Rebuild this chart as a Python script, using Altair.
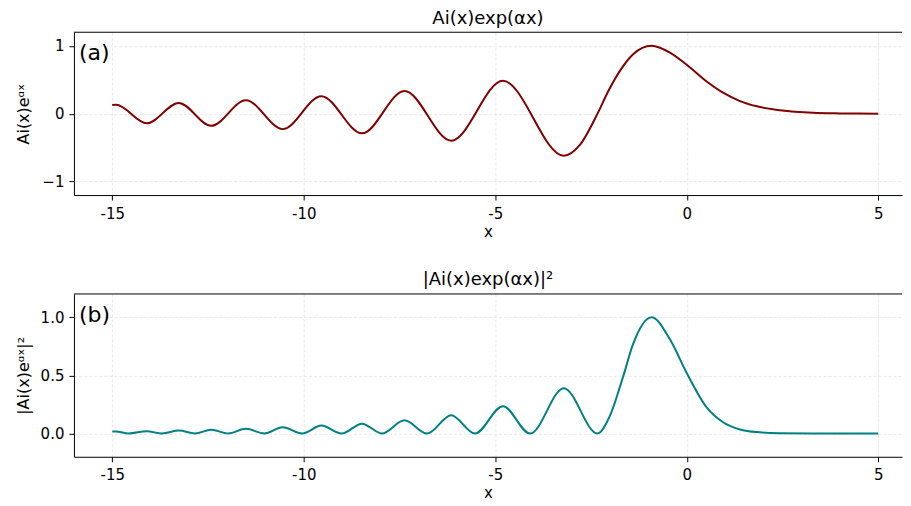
import altair as alt
import pandas as pd

# ---- data ----
# (a) Ai(x)exp(alpha x): extrema of the oscillations, then the main lobe and decaying tail
a_x = [-15.0, -14.9, -14.10, -13.26, -12.42, -11.51, -10.55, -9.54, -8.48, -7.37,
       -6.15, -4.80, -3.21, -2.79, -2.33, -2.05, -1.66, -1.40, -0.92, -0.44,
       0.0, 0.52, 0.96, 1.39, 1.83, 2.43, 3.3, 4.0, 5.0]
a_y = [0.127, 0.130, -0.143, 0.158, -0.180, 0.198, -0.228, 0.258, -0.290, 0.334,
       -0.398, 0.485, -0.620, -0.46, 0.0, 0.33, 0.70, 0.875, 1.0, 0.90,
       0.72, 0.475, 0.305, 0.185, 0.108, 0.05, 0.012, 0.004, 0.0]

# (b) |Ai(x)exp(alpha x)|^2: peaks, zeros and tail
b_x = [-15.0, -14.9, -14.57, -14.10, -13.70, -13.26, -12.84, -12.42, -11.97, -11.51,
       -11.03, -10.55, -10.04, -9.54, -9.01, -8.48, -7.96, -7.37, -6.78, -6.15,
       -5.53, -4.80, -4.09, -3.21, -2.33, -2.01, -1.66, -1.40, -0.92, -0.44,
       0.0, 0.52, 0.96, 1.39, 1.83, 2.43, 3.3, 5.0]
b_y = [0.0165, 0.017, 0.0, 0.020, 0.0, 0.025, 0.0, 0.032, 0.0, 0.040,
       0.0, 0.053, 0.0, 0.068, 0.0, 0.085, 0.0, 0.113, 0.0, 0.158,
       0.0, 0.235, 0.0, 0.390, 0.0, 0.15, 0.49, 0.77, 1.0, 0.81,
       0.52, 0.225, 0.095, 0.035, 0.012, 0.003, 0.0005, 0.0]

x_ticks = [-15, -10, -5, 0, 5]
a_ticks = [-1, 0, 1]
b_ticks = [0.0, 0.5, 1.0]

FONT = "DejaVu Sans"
W, H = 829, 163
X_DOMAIN = [-16, 5.62]


def panel(xs, ys, color, ydom, yticks, yfmt, ytitle, title, tag):
    df = pd.DataFrame({"x": xs, "y": ys})
    x_enc = alt.X(
        "x:Q",
        scale=alt.Scale(domain=X_DOMAIN, nice=False, zero=False),
        axis=alt.Axis(
            values=x_ticks, labelExpr="'' + datum.value", title="x",
            grid=True, gridDash=[3, 2], gridColor="#e2e2e2", gridWidth=0.8,
            domainColor="#000000", tickColor="#000000", tickSize=5,
            labelPadding=6, labelFontSize=15, labelColor="#000000", labelFont=FONT,
            titleFont=FONT, titleFontSize=15, titleFontWeight="normal",
            titleColor="#000000", titlePadding=3,
        ),
    )
    y_enc = alt.Y(
        "y:Q",
        scale=alt.Scale(domain=ydom, nice=False, zero=False),
        axis=alt.Axis(
            values=yticks, format=yfmt, title=ytitle,
            grid=True, gridDash=[3, 2], gridColor="#e2e2e2", gridWidth=0.8,
            domainColor="#000000", tickColor="#000000", tickSize=5,
            labelPadding=5, labelFontSize=15, labelColor="#000000", labelFont=FONT,
            titleFont=FONT, titleFontSize=16, titleFontWeight="normal",
            titleColor="#000000", titleX=-50, titleY=H / 2,
            titleBaseline="middle", titleAlign="center", titleAngle=270,
        ),
    )
    line = alt.Chart(df).mark_line(
        color=color, strokeWidth=2, interpolate="monotone"
    ).encode(x=x_enc, y=y_enc)

    top_rule = alt.Chart(pd.DataFrame({"k": [0]})).mark_rule(
        color="#000000", strokeWidth=1
    ).encode(x=alt.value(0), x2=alt.value(W), y=alt.value(0))

    tag_text = alt.Chart(pd.DataFrame({"t": [tag]})).mark_text(
        align="left", baseline="alphabetic", fontSize=22, font=FONT, color="#000000"
    ).encode(x=alt.value(5), y=alt.value(28), text="t:N")

    return alt.layer(line, top_rule, tag_text).properties(
        width=W, height=H,
        title=alt.TitleParams(
            title, font=FONT, fontSize=18, fontWeight="normal", color="#000000",
            anchor="middle", frame="group", offset=4,
        ),
    )


top = panel(a_x, a_y, "#800000", [-1.2, 1.2], a_ticks, "d",
            "Ai(x)eᵅˣ", "Ai(x)exp(αx)", "(a)")
bottom = panel(b_x, b_y, "#008080", [-0.2, 1.2], b_ticks, ".1f",
               "|Ai(x)eᵅˣ|²", "|Ai(x)exp(αx)|²", "(b)")

chart = alt.vconcat(top, bottom, spacing=32).properties(
    padding={"left": 8, "top": 1, "right": 0, "bottom": 0}
).configure_view(stroke=None)

chart.save("out.html", embed_options={"renderer": "svg", "actions": False})
